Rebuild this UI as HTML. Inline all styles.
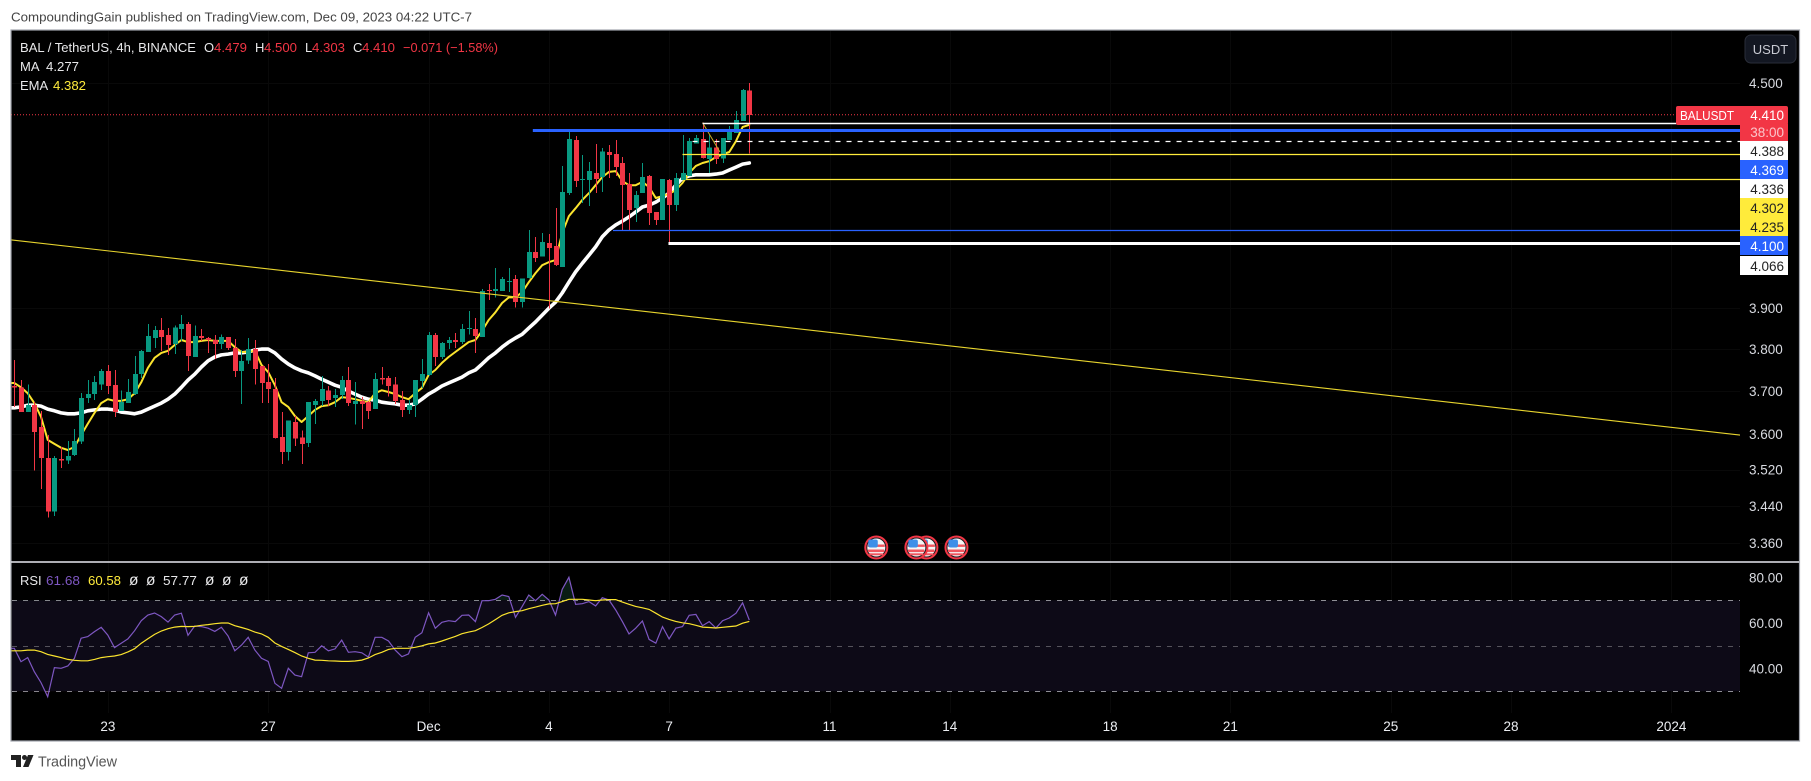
<!DOCTYPE html>
<html lang="en">
<head>
<meta charset="utf-8">
<title>BAL / TetherUS 4h chart</title>
<style>
html,body{margin:0;padding:0;background:#fff;}
svg{display:block;font-family:"Liberation Sans",sans-serif;}
.ax{font-size:13.5px;fill:#d8dae0;}
.lg{font-size:13px;fill:#e8e8ea;}
.nul{font-size:15.5px;fill:#e8e8ea;}
.red{fill:#f23645;}
.box{font-size:13.5px;text-anchor:end;}
</style>
</head>
<body>
<svg id="root" xmlns="http://www.w3.org/2000/svg" width="1811" height="781" viewBox="0 0 1811 781">
  <rect x="0" y="0" width="1811" height="781" fill="#ffffff"/>
  <text x="11" y="21.5" font-size="13" fill="#444" textLength="461" lengthAdjust="spacingAndGlyphs">CompoundingGain published on TradingView.com, Dec 09, 2023 04:22 UTC-7</text>
  <rect x="11" y="30" width="1788.5" height="711" fill="#000000" stroke="#a2a5ad" stroke-width="1.2"/>
  <defs>
    <clipPath id="plotClip"><rect x="11.5" y="31" width="1728.5" height="530"/></clipPath>
    <clipPath id="rsiClip"><rect x="11.5" y="563" width="1728.5" height="150"/></clipPath>
    <clipPath id="obClip"><rect x="11.5" y="563" width="1728.5" height="37.2"/></clipPath>
    <clipPath id="osClip"><rect x="11.5" y="691.2" width="1728.5" height="20"/></clipPath>
  </defs>
  <g id="grid"></g>
  <g id="rsiBand"></g>
  <g id="maLayer" clip-path="url(#plotClip)"></g>
  <g id="candleLayer" clip-path="url(#plotClip)"></g>
  <g id="drawLayer" clip-path="url(#plotClip)"></g>
  <g id="eventLayer"></g>
  <g id="priceAxis"></g>
  <g id="timeAxis"></g>
  <rect x="11" y="561.2" width="1788" height="1.6" fill="#d9dae0"/>

  <g>
    <text class="lg" x="20" y="52" textLength="176" lengthAdjust="spacingAndGlyphs">BAL / TetherUS, 4h, BINANCE</text>
    <text class="lg" x="204" y="52">O</text>
    <text class="lg red" x="214" y="52" textLength="33" lengthAdjust="spacingAndGlyphs">4.479</text>
    <text class="lg" x="255" y="52">H</text>
    <text class="lg red" x="264" y="52" textLength="33" lengthAdjust="spacingAndGlyphs">4.500</text>
    <text class="lg" x="305" y="52">L</text>
    <text class="lg red" x="312" y="52" textLength="33" lengthAdjust="spacingAndGlyphs">4.303</text>
    <text class="lg" x="353" y="52">C</text>
    <text class="lg red" x="362" y="52" textLength="33" lengthAdjust="spacingAndGlyphs">4.410</text>
    <text class="lg red" x="403" y="52" textLength="95" lengthAdjust="spacingAndGlyphs">−0.071 (−1.58%)</text>
    <text class="lg" x="20" y="71">MA</text>
    <text class="lg" x="46" y="71" textLength="33" lengthAdjust="spacingAndGlyphs">4.277</text>
    <text class="lg" x="20" y="90">EMA</text>
    <text class="lg" fill="#ffeb3b" style="fill:#ffeb3b" x="53" y="90" textLength="33" lengthAdjust="spacingAndGlyphs">4.382</text>
  </g>

  <g>
    <text class="lg" x="20" y="585">RSI</text>
    <text class="lg" style="fill:#7e57c2" x="46" y="585" textLength="34" lengthAdjust="spacingAndGlyphs">61.68</text>
    <text class="lg" style="fill:#ffeb3b" x="88" y="585" textLength="33" lengthAdjust="spacingAndGlyphs">60.58</text>
    <text class="nul" x="129" y="585">ø</text>
    <text class="nul" x="146" y="585">ø</text>
    <text class="lg" x="163" y="585" textLength="34" lengthAdjust="spacingAndGlyphs">57.77</text>
    <text class="nul" x="205" y="585">ø</text>
    <text class="nul" x="222" y="585">ø</text>
    <text class="nul" x="239" y="585">ø</text>
  </g>

  <g>
    <rect x="1676" y="106" width="112" height="19" rx="2" fill="#f23645"/>
    <rect x="1740" y="124" width="48" height="17" fill="#f23645"/>
    <text x="1680" y="120" font-size="13" fill="#ffffff" textLength="54" lengthAdjust="spacingAndGlyphs">BALUSDT</text>
    <text class="box" x="1784" y="120" fill="#ffffff">4.410</text>
    <text class="box" x="1784" y="137" fill="#fbc5ca">38:00</text>
    <rect x="1740" y="141" width="48" height="19" fill="#ffffff"/>
    <text class="box" x="1784" y="156" fill="#222">4.388</text>
    <rect x="1740" y="160" width="48" height="19" fill="#2962ff"/>
    <text class="box" x="1784" y="175" fill="#fff">4.369</text>
    <rect x="1740" y="179" width="48" height="19" fill="#ffffff"/>
    <text class="box" x="1784" y="194" fill="#222">4.336</text>
    <rect x="1740" y="198" width="48" height="19" fill="#ffeb3b"/>
    <text class="box" x="1784" y="213" fill="#222">4.302</text>
    <rect x="1740" y="217" width="48" height="19" fill="#ffeb3b"/>
    <text class="box" x="1784" y="232" fill="#222">4.235</text>
    <rect x="1740" y="236" width="48" height="19" fill="#2962ff"/>
    <text class="box" x="1784" y="251" fill="#fff">4.100</text>
    <rect x="1740" y="256" width="48" height="19" fill="#ffffff"/>
    <text class="box" x="1784" y="271" fill="#222">4.066</text>
  </g>

  <g>
    <rect x="1745" y="35" width="51" height="28" rx="6" fill="#131722" stroke="#2a2e39"/>
    <text x="1770.5" y="54" font-size="13" fill="#c8cad2" text-anchor="middle">USDT</text>
  </g>

  <g>
    <path d="M11 755h10v12h-5v-7h-5z" fill="#222"/>
    <circle cx="24.5" cy="757.5" r="2.5" fill="#222"/>
    <path d="M28 755h5.5l-5 12h-5.5z" fill="#222"/>
    <text x="38" y="766.5" font-size="15" fill="#555" textLength="79" lengthAdjust="spacingAndGlyphs">TradingView</text>
  </g>
</svg>

<script>
// ---- candle data (newest last), one entry per 4h bar ----
const opens = [3.712,3.709,3.651,3.667,3.617,3.546,3.427,3.544,3.540,3.553,3.583,3.684,3.693,3.716,3.748,3.714,3.654,3.672,3.693,3.740,3.793,3.827,3.846,3.834,3.812,3.849,3.861,3.781,3.832,3.827,3.822,3.812,3.829,3.803,3.748,3.772,3.800,3.760,3.721,3.705,3.594,3.560,3.628,3.592,3.580,3.667,3.677,3.702,3.684,3.691,3.726,3.670,3.677,3.674,3.658,3.731,3.731,3.716,3.679,3.656,3.667,3.724,3.738,3.834,3.781,3.815,3.822,3.817,3.849,3.849,3.829,3.945,3.943,3.943,3.965,3.973,3.915,3.975,4.042,4.031,4.065,4.057,4.003,4.196,4.340,4.231,4.231,4.250,4.239,4.307,4.301,4.277,4.220,4.156,4.196,4.242,4.146,4.125,4.231,4.164,4.231,4.242,4.331,4.343,4.288,4.320,4.290,4.340,4.359,4.393,4.479];
const highs = [3.774,3.726,3.716,3.674,3.654,3.598,3.551,3.571,3.585,3.612,3.695,3.726,3.736,3.752,3.762,3.750,3.702,3.728,3.784,3.798,3.861,3.856,3.876,3.851,3.858,3.883,3.866,3.858,3.849,3.829,3.834,3.836,3.829,3.824,3.798,3.827,3.822,3.760,3.764,3.731,3.651,3.631,3.642,3.608,3.674,3.681,3.736,3.712,3.705,3.736,3.757,3.721,3.686,3.677,3.743,3.757,3.736,3.733,3.700,3.679,3.726,3.776,3.841,3.839,3.817,3.829,3.839,3.861,3.893,3.876,3.948,3.960,4.001,3.978,4.001,3.983,3.975,4.099,4.081,4.091,4.089,4.156,4.269,4.368,4.351,4.299,4.280,4.329,4.318,4.326,4.340,4.293,4.250,4.201,4.277,4.245,4.146,4.234,4.234,4.250,4.354,4.345,4.354,4.388,4.354,4.343,4.345,4.379,4.421,4.483,4.500];
const lows = [3.663,3.651,3.651,3.518,3.477,3.414,3.418,3.524,3.533,3.551,3.578,3.672,3.679,3.702,3.693,3.640,3.654,3.672,3.691,3.731,3.793,3.803,3.796,3.786,3.788,3.820,3.748,3.781,3.820,3.791,3.776,3.800,3.798,3.733,3.670,3.764,3.716,3.672,3.672,3.590,3.533,3.540,3.573,3.533,3.571,3.624,3.665,3.665,3.663,3.681,3.665,3.622,3.612,3.635,3.658,3.716,3.688,3.670,3.640,3.647,3.640,3.707,3.736,3.760,3.776,3.800,3.803,3.812,3.836,3.791,3.829,3.920,3.927,3.943,3.940,3.902,3.902,3.975,4.016,4.031,3.900,4.006,4.003,4.191,4.212,4.170,4.162,4.196,4.199,4.236,4.242,4.099,4.099,4.120,4.196,4.112,4.112,4.125,4.065,4.148,4.231,4.242,4.331,4.290,4.250,4.274,4.277,4.340,4.359,4.393,4.303];
const closes = [3.709,3.651,3.667,3.605,3.546,3.427,3.546,3.540,3.551,3.585,3.684,3.693,3.721,3.748,3.712,3.651,3.674,3.698,3.740,3.796,3.832,3.846,3.829,3.810,3.853,3.861,3.784,3.832,3.827,3.822,3.812,3.829,3.803,3.748,3.772,3.800,3.752,3.719,3.705,3.592,3.560,3.631,3.590,3.578,3.674,3.677,3.705,3.679,3.691,3.726,3.672,3.677,3.670,3.654,3.728,3.728,3.712,3.677,3.656,3.667,3.726,3.740,3.834,3.781,3.815,3.822,3.817,3.849,3.851,3.832,3.943,3.943,3.948,3.973,3.968,3.915,3.975,4.042,4.026,4.068,4.052,4.008,4.199,4.343,4.228,4.234,4.255,4.234,4.309,4.299,4.266,4.217,4.151,4.191,4.239,4.143,4.125,4.234,4.164,4.236,4.250,4.337,4.345,4.290,4.320,4.288,4.345,4.362,4.396,4.480,4.410];

// ---- moving averages (one per bar) ----
const maValues = [3.661,3.663,3.667,3.667,3.665,3.658,3.654,3.649,3.647,3.647,3.649,3.654,3.656,3.658,3.658,3.656,3.651,3.649,3.647,3.651,3.658,3.665,3.672,3.681,3.693,3.709,3.726,3.740,3.757,3.772,3.781,3.786,3.788,3.791,3.791,3.793,3.798,3.800,3.800,3.791,3.776,3.764,3.755,3.748,3.743,3.736,3.728,3.721,3.714,3.709,3.700,3.693,3.686,3.681,3.679,3.674,3.672,3.670,3.667,3.667,3.670,3.681,3.693,3.702,3.712,3.719,3.726,3.733,3.743,3.750,3.764,3.779,3.791,3.805,3.817,3.827,3.836,3.851,3.866,3.883,3.900,3.915,3.938,3.965,3.991,4.013,4.034,4.055,4.081,4.099,4.112,4.122,4.133,4.146,4.159,4.164,4.172,4.183,4.196,4.217,4.236,4.242,4.245,4.245,4.245,4.247,4.250,4.258,4.266,4.274,4.277];
const emaValues = [3.719,3.709,3.695,3.672,3.640,3.587,3.578,3.569,3.564,3.571,3.598,3.624,3.649,3.672,3.681,3.677,3.677,3.681,3.695,3.721,3.755,3.779,3.791,3.796,3.810,3.822,3.817,3.817,3.820,3.822,3.820,3.820,3.820,3.805,3.793,3.793,3.796,3.762,3.745,3.714,3.674,3.663,3.642,3.628,3.642,3.656,3.665,3.667,3.674,3.686,3.684,3.681,3.677,3.674,3.695,3.702,3.698,3.693,3.686,3.681,3.695,3.707,3.738,3.750,3.767,3.781,3.793,3.805,3.817,3.822,3.844,3.871,3.890,3.913,3.927,3.927,3.940,3.965,3.988,4.008,4.016,4.021,4.091,4.135,4.156,4.178,4.196,4.217,4.239,4.253,4.255,4.228,4.217,4.217,4.226,4.212,4.183,4.188,4.194,4.204,4.223,4.250,4.269,4.277,4.282,4.293,4.301,4.307,4.337,4.376,4.382];

// ---- RSI pane ----
const rsiValues = [48.9,43.0,44.8,38.6,33.8,27.6,40.4,40.1,41.1,44.5,53.3,54.0,56.2,58.1,54.7,49.2,51.1,53.0,56.6,61.0,63.5,64.4,62.8,60.4,63.5,64.3,54.6,58.7,58.4,57.7,56.3,58.1,54.3,47.8,50.3,53.7,48.1,44.5,43.1,33.5,31.3,40.1,37.1,36.4,46.9,47.1,50.0,47.8,48.6,52.5,47.1,47.4,46.9,45.0,53.7,53.7,52.1,48.1,45.2,46.4,53.7,55.7,64.5,57.7,60.3,61.0,60.6,63.4,63.5,60.6,69.8,69.8,70.4,72.3,71.6,62.5,67.2,72.3,69.8,72.6,70.1,63.5,74.8,80.1,68.2,68.5,69.4,67.5,71.1,70.1,65.7,60.6,55.2,57.7,60.9,52.8,51.1,58.4,53.0,57.7,58.4,63.4,63.8,58.8,60.6,57.8,61.0,62.2,64.3,68.9,61.3];
const rsiMaValues = [47.8,47.8,48.1,48.1,47.4,46.2,45.5,44.8,44.0,43.6,43.4,43.4,44.0,44.8,45.2,45.5,46.1,47.3,48.7,51.1,53.1,55.0,56.5,57.5,58.2,58.5,58.4,58.5,59.0,59.3,59.7,60.0,60.0,58.8,58.0,57.2,56.0,55.2,53.7,51.2,49.7,48.4,47.0,45.5,44.5,43.7,43.6,43.4,43.3,43.1,43.1,43.3,43.7,44.6,46.1,47.1,48.4,48.9,48.9,48.9,49.3,50.0,50.8,51.2,52.1,53.1,54.1,55.3,56.0,56.6,58.0,59.6,61.5,63.4,64.5,65.0,65.4,66.3,67.0,67.8,68.4,68.5,69.4,70.4,70.4,70.4,70.1,69.8,70.1,70.3,70.3,69.2,68.2,67.3,66.7,66.0,64.3,62.6,61.6,60.7,60.1,59.7,59.0,58.2,58.0,57.8,58.1,58.4,58.7,59.9,60.7];
const rsiBandLevels = [70, 50, 30];
const rsiTicks = [80, 60, 40];

// ---- axes ----
const priceTicks = [4.5, 3.9, 3.8, 3.7, 3.6, 3.52, 3.44, 3.36];
const timeLabels = ["23", "27", "Dec", "4", "7", "11", "14", "18", "21", "25", "28", "2024"];
const timeBars = [14, 38, 62, 80, 98, 122, 140, 164, 182, 206, 224, 248];

// ---- drawing tools on the price chart ----
const levelNames = ["level-4388", "level-4369", "level-4336", "level-4302", "level-4235", "level-4100", "level-4066"];
const levelPrices = [4.388, 4.369, 4.336, 4.302, 4.235, 4.100, 4.066];
const levelStartBars = [103, 77.6, 101.5, 100, 100.5, 89.6, 97.9];
const lastPrice = 4.410;
const trendBars = [-0.5, 258.3];
const trendPrices = [4.073, 3.598];
const diagonalBars = [103, 105.6];
const diagonalPrices = [4.388, 4.307];
const eventBars = [129, 136.5, 135, 141];

// ---- scales ----
const NS = "http://www.w3.org/2000/svg";
function xBar(i) { return 14.3 + 6.682 * i; }
function yPrice(p) { return 83 + 1574 * Math.log(4.5 / p); }
function yRsi(v) { return 623 + (60 - v) * 2.275; }

function mk(tag, parent, attrs) {
  const el = document.createElementNS(NS, tag);
  for (const k in attrs) el.setAttribute(k, attrs[k]);
  parent.appendChild(el);
  return el;
}
function linePath(values, yFn) {
  // lead in from the left pane edge, the series continues off-screen there
  let d = "M" + xBar(-0.5).toFixed(1) + " " + yFn(values[0]).toFixed(1);
  values.forEach(function (v, i) {
    d += "L" + xBar(i).toFixed(1) + " " + yFn(v).toFixed(1);
  });
  return d;
}

const grid = document.getElementById("grid");
const candleLayer = document.getElementById("candleLayer");
const maLayer = document.getElementById("maLayer");
const drawLayer = document.getElementById("drawLayer");
const rsiBand = document.getElementById("rsiBand");
const priceAxis = document.getElementById("priceAxis");
const timeAxis = document.getElementById("timeAxis");
const eventLayer = document.getElementById("eventLayer");

// grid + axis labels
priceTicks.forEach(function (p) {
  const y = yPrice(p);
  const line = mk("rect", grid, { x: 12, y: Math.round(y), width: 1728, height: 1, fill: "#090909" });
  
  
  const t = mk("text", priceAxis, { "class": "ax", x: 1749, y: y + 5 });
  
  
  t.textContent = p.toFixed(3);
});
timeLabels.forEach(function (label, i) {
  const x = xBar(timeBars[i]);
  const line = mk("rect", grid, { x: Math.round(x), y: 31, width: 1, height: 682, fill: "#090909" });
  
  
  const t = mk("text", timeAxis, { "class": "ax", x: x, y: 731, "text-anchor": "middle", style: "fill:#eceef2" });
  
  
  t.textContent = label;
});
rsiTicks.forEach(function (v) {
  const t = mk("text", priceAxis, { "class": "ax", x: 1749, y: yRsi(v) + 5 });
  
  
  t.textContent = v.toFixed(2);
});

// moving averages sit under the candles
const maLine = mk("path", maLayer, { d: linePath(maValues, yPrice), fill: "none", stroke: "#ffffff", "stroke-width": 3.6, "stroke-linejoin": "round", "stroke-linecap": "round" });


const emaLine = mk("path", maLayer, { d: linePath(emaValues, yPrice), fill: "none", stroke: "#fbe42e", "stroke-width": 2, "stroke-linejoin": "round", "stroke-linecap": "round" });



// candles
opens.forEach(function (o, i) {
  const c = closes[i];
  const col = c >= o ? "#089981" : "#f23645";
  const x = Math.round(xBar(i));
  const top = yPrice(Math.max(o, c));
  const bot = yPrice(Math.min(o, c));
  const g = mk("g", candleLayer, { "shape-rendering": "crispEdges" });
  
  
  const wick = mk("rect", g, { x: x, y: yPrice(highs[i]).toFixed(1), width: 1, height: Math.max(1, yPrice(lows[i]) - yPrice(highs[i])).toFixed(1), fill: col });
  
  
  const body = mk("rect", g, { x: x - 2, y: top.toFixed(1), width: 5, height: Math.max(1, bot - top).toFixed(1), fill: col });
  
  
});

// drawings
const lastLine = mk("line", drawLayer, { x1: 11, x2: 1676, y1: yPrice(lastPrice), y2: yPrice(lastPrice), stroke: "#f23645", "stroke-width": 1, "stroke-dasharray": "1 2" });


const trend = mk("line", drawLayer, { x1: xBar(trendBars[0]), y1: yPrice(trendPrices[0]), x2: xBar(trendBars[1]), y2: yPrice(trendPrices[1]), stroke: "#e8d52e", "stroke-width": 1.1 });


const diag = mk("line", drawLayer, { x1: xBar(diagonalBars[0]), y1: yPrice(diagonalPrices[0]), x2: xBar(diagonalBars[1]), y2: yPrice(diagonalPrices[1]), stroke: "#c9a92a", "stroke-width": 1 });


const levelColors = ["#ffffff", "#2962ff", "#ffffff", "#ffeb3b", "#ffeb3b", "#2962ff", "#ffffff"];
const levelWidths = [1.4, 3, 1.2, 1.2, 1.2, 1.2, 3];
levelPrices.forEach(function (p, i) {
  const y = Math.round(yPrice(p)) + 0.5;
  const l = mk("line", drawLayer, { x1: xBar(levelStartBars[i]), x2: 1740, y1: y, y2: y, stroke: levelColors[i], "stroke-width": levelWidths[i] });
  if (i === 2) l.setAttribute("stroke-dasharray", "5 6");
  
  
});

// RSI pane
const bandFill = mk("rect", rsiBand, { x: 12, y: yRsi(rsiBandLevels[0]), width: 1728, height: yRsi(rsiBandLevels[2]) - yRsi(rsiBandLevels[0]), fill: "#0d0a17" });


rsiBandLevels.forEach(function (v, i) {
  const y = Math.round(yRsi(v)) + 0.5;
  const l = mk("line", rsiBand, { x1: 12, x2: 1740, y1: y, y2: y, stroke: i === 1 ? "#55535c" : "#8f8f96", "stroke-width": 1, "stroke-dasharray": "5 6" });
  
  
});
const xEnd = xBar(rsiValues.length - 1).toFixed(1);
const obArea = mk("path", rsiBand, { d: linePath(rsiValues, yRsi) + "L" + xEnd + " 600.2L14.3 600.2Z", fill: "#0f2f22", "fill-opacity": 0.6, "clip-path": "url(#obClip)" });


const osArea = mk("path", rsiBand, { d: linePath(rsiValues, yRsi) + "L" + xEnd + " 691.2L14.3 691.2Z", fill: "#3a1218", "fill-opacity": 0.6, "clip-path": "url(#osClip)" });


const rsiLine = mk("path", rsiBand, { d: linePath(rsiValues, yRsi), fill: "none", stroke: "#7e57c2", "stroke-width": 1.2, "clip-path": "url(#rsiClip)" });


const rsiMaLine = mk("path", rsiBand, { d: linePath(rsiMaValues, yRsi), fill: "none", stroke: "#fbe42e", "stroke-width": 1.2, "clip-path": "url(#rsiClip)" });



// US economic event markers
eventBars.forEach(function (bar) {
  const cx = xBar(bar);
  const cy = 547.5;
  const g = mk("g", eventLayer, {});
  
  
  mk("circle", g, { cx: cx, cy: cy, r: 11, fill: "#1c1c22", stroke: "#f23645", "stroke-width": 2 });
  mk("circle", g, { cx: cx, cy: cy, r: 9, fill: "#f5f5f5" });
  mk("rect", g, { x: cx - 8.5, y: cy - 3, width: 17, height: 2.4, fill: "#f0565f" });
  mk("rect", g, { x: cx - 8.5, y: cy + 2, width: 16.5, height: 2.6, fill: "#f0565f" });
  mk("rect", g, { x: cx - 7, y: cy + 5.8, width: 14, height: 2, fill: "#f0565f" });
  mk("rect", g, { x: cx - 8, y: cy - 8, width: 9.5, height: 8, rx: 2, fill: "#3d8fe8" });
});
</script>
</body>
</html>
